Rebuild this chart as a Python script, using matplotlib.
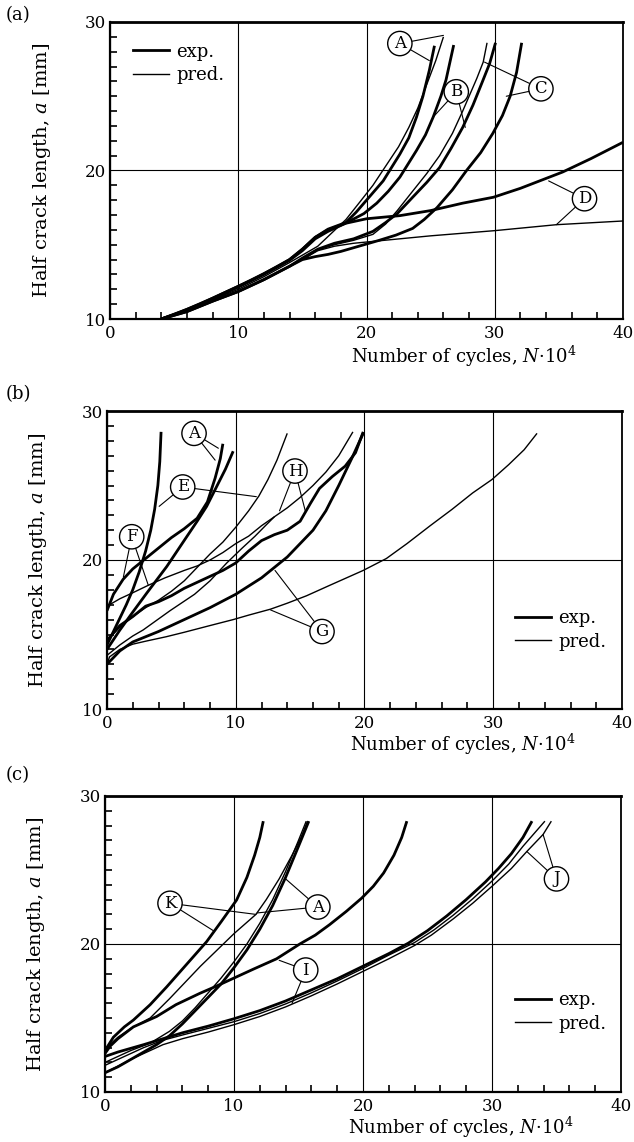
import matplotlib
matplotlib.use("Agg")
import matplotlib.pyplot as plt
from matplotlib.ticker import MultipleLocator
from matplotlib.lines import Line2D

plt.rcParams["font.family"] = ["DejaVu Serif"]
plt.rcParams["mathtext.fontset"] = "dejavuserif"

# ---------------- data (N in 10^4 cycles, a in mm) ----------------
# panel (a)
a_A_exp_N = [4, 5, 6, 7, 8, 9, 10, 11, 12, 13, 14, 15, 16, 17, 18.4, 19.2, 20, 21.3, 22.6, 23.3, 23.9, 24.4, 24.9, 25.3]
a_A_exp_a = [10.0, 10.3, 10.65, 11.0, 11.4, 11.8, 12.2, 12.6, 13.05, 13.5, 14.0, 14.7, 15.5, 16.05, 16.5, 17.2, 18.0, 19.3, 21.1, 22.2, 23.6, 25.0, 26.75, 28.4]
a_A_pred_N = [4, 6, 8, 10, 12, 14, 15, 16.2, 17.3, 18.4, 19.5, 20.5, 21.5, 22.5, 23.3, 24.0, 24.7, 25.4, 26.0]
a_A_pred_a = [10.0, 10.55, 11.3, 12.0, 12.85, 13.8, 14.3, 14.9, 15.8, 16.7, 17.9, 19.0, 20.3, 21.6, 22.9, 24.2, 25.8, 27.4, 29.0]
a_B_pred_N = [4, 6, 8, 10, 12, 14, 15, 16, 17, 18, 18.7, 19.8, 20.8, 21.7, 22.6, 23.9, 24.6, 25.2, 25.8, 26.2, 26.8]
a_B_pred_a = [10.0, 10.6, 11.35, 12.15, 13.0, 13.95, 14.6, 15.4, 15.9, 16.3, 16.6, 17.1, 17.8, 18.6, 19.55, 21.35, 22.4, 23.6, 25.0, 26.1, 28.45]
a_B_exp_N = [4, 6, 8, 10, 12, 14, 15, 16.2, 17.5, 19, 20.5, 21.5, 22.4, 23.6, 24.7, 25.7, 26.6, 27.5, 28.3, 29.0, 29.6, 30.06]
a_B_exp_a = [10.0, 10.5, 11.2, 11.85, 12.65, 13.55, 14.1, 14.7, 15.1, 15.4, 15.9, 16.5, 17.1, 18.2, 19.2, 20.2, 21.5, 22.9, 24.4, 25.9, 27.2, 28.6]
a_C_pred_N = [4, 6, 8, 10, 12, 14, 15, 16.2, 17.5, 19, 20.5, 21.5, 22.4, 23.5, 24.7, 25.7, 26.7, 27.5, 28.1, 28.6, 29.1, 29.4]
a_C_pred_a = [10.0, 10.5, 11.2, 11.85, 12.65, 13.55, 14.0, 14.65, 15.0, 15.3, 15.7, 16.4, 17.3, 18.5, 19.8, 21.0, 22.5, 24.0, 25.2, 26.2, 27.3, 28.6]
a_C_exp_N = [4, 6, 8, 10, 12, 14, 15, 16, 17, 18, 19, 20, 21, 22.3, 23.6, 24.5, 25.5, 26.7, 27.8, 28.9, 29.85, 30.6, 31.2, 31.7, 32.1]
a_C_exp_a = [10.0, 10.5, 11.2, 11.85, 12.65, 13.55, 14.0, 14.2, 14.35, 14.55, 14.8, 15.05, 15.3, 15.65, 16.1, 16.7, 17.5, 18.7, 20.0, 21.2, 22.5, 23.7, 25.0, 26.6, 28.6]
a_D_exp_N = [4, 6, 8, 10, 12, 14, 15, 16, 17, 18.4, 20, 22.6, 25, 27.5, 29.9, 32, 35.3, 37.5, 40]
a_D_exp_a = [10.0, 10.65, 11.4, 12.2, 13.05, 14.0, 14.7, 15.5, 16.0, 16.45, 16.75, 16.96, 17.3, 17.8, 18.2, 18.8, 19.9, 20.8, 21.9]
a_D_pred_N = [4, 6, 8, 10, 12, 14, 15, 16.2, 17.5, 19, 21.4, 25, 30, 34.8, 40]
a_D_pred_a = [10.0, 10.5, 11.2, 11.85, 12.65, 13.55, 14.0, 14.6, 14.9, 15.1, 15.3, 15.6, 15.95, 16.35, 16.6]

# panel (b)
b_E_exp_N = [0, 0.5, 1, 1.5, 2, 2.5, 3.0, 3.4, 3.7, 3.95, 4.1, 4.2]
b_E_exp_a = [14.3, 15.2, 16.1, 17.0, 18.0, 19.2, 20.6, 22.0, 23.4, 25.0, 26.6, 28.6]
b_E_pred_N = [0, 1, 2, 3, 4, 5, 6, 7, 8, 9, 10, 11, 11.8, 12.5, 13.2, 14.0]
b_E_pred_a = [14.6, 15.5, 16.2, 16.8, 17.3, 17.9, 18.6, 19.5, 20.4, 21.2, 22.2, 23.3, 24.3, 25.4, 26.7, 28.5]
b_F_exp_N = [0, 0.5, 1.25, 2, 3, 4, 5, 6, 7, 7.8, 8.4, 8.8, 9.0]
b_F_exp_a = [16.6, 17.7, 18.7, 19.4, 20.1, 20.8, 21.5, 22.1, 22.8, 23.9, 25.5, 26.8, 27.8]
b_F_pred_N = [0, 1, 2, 3.2, 4.5, 6, 7, 8, 9, 10, 11, 12, 13, 14, 15, 16, 17, 18, 19.1]
b_F_pred_a = [16.9, 17.4, 17.8, 18.3, 18.8, 19.3, 19.6, 20.0, 20.5, 21.1, 21.6, 22.3, 22.9, 23.5, 24.2, 25.0, 25.9, 27.0, 28.6]
b_A_exp_N = [0, 1, 2, 3.08, 4.64, 6.19, 7.0, 7.74, 8.5, 9.2, 9.8]
b_A_exp_a = [14.0, 15.3, 16.5, 17.77, 19.56, 21.56, 22.6, 23.6, 24.9, 26.1, 27.3]
b_A_pred_N = [0, 1, 2, 2.8, 4.9, 6.8, 8.0, 9.3, 10.5, 11.5, 12.3, 13.0]
b_A_pred_a = [13.6, 14.3, 14.9, 15.3, 16.6, 17.7, 18.6, 19.8, 20.8, 21.6, 22.3, 22.9]
b_H_exp_N = [0, 1, 2, 3, 4, 5, 6, 7, 8, 9, 10, 11, 12, 13, 14, 15, 15.8, 16.5, 17.5, 18.5, 19.3, 19.9]
b_H_exp_a = [14.6, 15.6, 16.2, 16.9, 17.2, 17.6, 18.1, 18.5, 18.9, 19.3, 19.8, 20.6, 21.3, 21.7, 22.0, 22.6, 23.8, 24.8, 25.6, 26.3, 27.2, 28.6]
b_G_exp_N = [0, 1, 2, 4, 6, 8, 10, 12, 14, 16, 17, 18, 19, 19.9]
b_G_exp_a = [13.0, 13.9, 14.5, 15.2, 16.0, 16.8, 17.7, 18.8, 20.2, 22.0, 23.3, 25.0, 26.8, 28.5]
b_G_pred_N = [0, 0.2, 1, 2, 3, 4.6, 6, 8, 9.8, 11, 12.7, 14, 15.5, 17.3, 18.6, 19.9, 21.7, 23.3, 25.1, 26.8, 28.4, 29.9, 31.2, 32.4, 33.4]
b_G_pred_a = [13.0, 13.5, 14.0, 14.35, 14.55, 14.85, 15.15, 15.6, 16.0, 16.3, 16.7, 17.1, 17.6, 18.3, 18.8, 19.3, 20.1, 21.1, 22.3, 23.4, 24.5, 25.4, 26.4, 27.4, 28.5]

# panel (c)
c_K_exp_N = [0, 0.65, 1.5, 2.2, 3.5, 4.78, 6.3, 7.88, 9.0, 10.2, 11.0, 11.6, 12.0, 12.27]
c_K_exp_a = [12.8, 13.7, 14.4, 14.86, 15.9, 17.1, 18.6, 20.16, 21.5, 22.97, 24.5, 26.0, 27.2, 28.3]
c_K_pred_N = [0, 1, 2, 3.5, 5, 7.4, 10, 11.7, 12.5, 13.5, 14.5, 15.2, 15.7]
c_K_pred_a = [12.9, 13.7, 14.3, 15.0, 16.3, 18.5, 20.7, 22.0, 23.0, 24.4, 26.0, 27.2, 28.3]
c_A_exp_N = [0, 1, 2, 3, 4, 5, 6, 7, 8, 9, 10, 11, 12, 13, 14, 15, 15.8]
c_A_exp_a = [11.3, 11.7, 12.2, 12.7, 13.2, 13.8, 14.6, 15.5, 16.4, 17.3, 18.4, 19.6, 21.0, 22.6, 24.5, 26.6, 28.3]
c_A_pred_N = [0, 1, 2, 3.5, 5, 6, 7, 8, 9, 10, 11, 12, 13, 14, 15, 15.6]
c_A_pred_a = [12.0, 12.4, 12.8, 13.3, 14.1, 14.8, 15.7, 16.7, 17.7, 18.8, 20.0, 21.4, 23.0, 24.9, 27.0, 28.3]
c_I_exp_N = [0, 0.4, 1, 2.2, 4.0, 5.5, 7.36, 8.5, 10, 11.5, 13.3, 15.1, 16.3, 17.4, 18.7, 19.9, 20.8, 21.6, 22.4, 23.0, 23.4]
c_I_exp_a = [12.6, 13.1, 13.6, 14.4, 15.1, 15.9, 16.67, 17.1, 17.7, 18.3, 19.0, 20.0, 20.6, 21.3, 22.2, 23.1, 23.9, 24.8, 26.0, 27.2, 28.3]
c_I_pred_N = [0, 1, 2, 3, 4.5, 6, 8, 10, 12, 14, 16, 18, 20, 22, 24, 25.5, 27, 28.5, 30, 31.3, 32.4, 33.3, 34.1]
c_I_pred_a = [11.8, 12.2, 12.6, 13.0, 13.5, 13.85, 14.3, 14.75, 15.3, 15.95, 16.7, 17.5, 18.35, 19.25, 20.1, 20.95, 21.95, 23.05, 24.25, 25.4, 26.6, 27.5, 28.3]
c_J_exp_N = [0, 1, 2, 3, 4.5, 6, 8, 10, 12, 14, 16, 18, 20, 22, 23.5, 25, 26.5, 28, 29.5, 30.5, 31.5, 32.4, 33.1]
c_J_exp_a = [12.4, 12.7, 12.95, 13.2, 13.6, 14.0, 14.45, 14.95, 15.5, 16.15, 16.9, 17.65, 18.5, 19.35, 20.05, 20.9, 21.9, 23.0, 24.2, 25.1, 26.1, 27.2, 28.3]
c_J_pred_N = [0, 1, 2, 3, 4.5, 6, 8, 10, 12, 14, 16, 18, 20, 22, 24, 25.3, 27, 28.5, 30, 31.5, 32.7, 33.96, 34.6]
c_J_pred_a = [11.3, 11.75, 12.2, 12.6, 13.2, 13.6, 14.05, 14.55, 15.1, 15.75, 16.5, 17.3, 18.15, 19.0, 19.9, 20.6, 21.7, 22.75, 23.9, 25.1, 26.25, 27.4, 28.3]

x_ticks = [0, 10, 20, 30, 40]
y_ticks = [10, 20, 30]
legend_labels = ["exp.", "pred."]
panel_tags = ["(a)", "(b)", "(c)"]

LW_EXP = 2.0
LW_PRED = 1.0

panels = {
    "a": [(a_A_exp_N, a_A_exp_a, "e"), (a_A_pred_N, a_A_pred_a, "p"),
          (a_B_pred_N, a_B_pred_a, "e"), (a_B_exp_N, a_B_exp_a, "e"),
          (a_C_pred_N, a_C_pred_a, "p"), (a_C_exp_N, a_C_exp_a, "e"),
          (a_D_exp_N, a_D_exp_a, "e"), (a_D_pred_N, a_D_pred_a, "p")],
    "b": [(b_E_exp_N, b_E_exp_a, "e"), (b_E_pred_N, b_E_pred_a, "p"),
          (b_F_exp_N, b_F_exp_a, "e"), (b_F_pred_N, b_F_pred_a, "p"),
          (b_A_exp_N, b_A_exp_a, "e"), (b_A_pred_N, b_A_pred_a, "p"),
          (b_H_exp_N, b_H_exp_a, "e"), (b_G_exp_N, b_G_exp_a, "e"),
          (b_G_pred_N, b_G_pred_a, "p")],
    "c": [(c_K_exp_N, c_K_exp_a, "e"), (c_K_pred_N, c_K_pred_a, "p"),
          (c_A_exp_N, c_A_exp_a, "e"), (c_A_pred_N, c_A_pred_a, "p"),
          (c_I_exp_N, c_I_exp_a, "e"), (c_I_pred_N, c_I_pred_a, "p"),
          (c_J_exp_N, c_J_exp_a, "e"), (c_J_pred_N, c_J_pred_a, "p")],
}

# circled labels: (letter, label position, [leader targets])
labels = {
    "a": [("A", (22.6, 28.55), [(26.0, 29.1), (24.9, 27.4)]),
          ("B", (27.0, 25.3), [(25.2, 23.6), (27.7, 22.9)]),
          ("C", (33.6, 25.5), [(29.2, 27.3), (30.9, 25.0)]),
          ("D", (37.0, 18.1), [(34.2, 19.3), (34.8, 16.35)])],
    "b": [("A", (6.76, 28.5), [(8.65, 27.5), (8.4, 26.7)]),
          ("E", (5.88, 24.9), [(4.05, 23.6), (11.6, 24.25)]),
          ("F", (1.92, 21.56), [(1.27, 18.85), (3.21, 18.3)]),
          ("H", (14.6, 25.97), [(13.4, 23.3), (15.4, 23.3)]),
          ("G", (16.7, 15.2), [(13.05, 19.3), (12.7, 16.65)])],
    "c": [("K", (5.04, 22.75), [(8.4, 20.9), (11.7, 22.0)]),
          ("A", (16.5, 22.5), [(14.0, 24.4), (11.8, 22.1)]),
          ("I", (15.56, 18.24), [(13.5, 18.9), (14.5, 16.0)]),
          ("J", (35.0, 24.4), [(33.96, 27.4), (32.7, 26.25)])],
}

W, H = 634, 1142
fig = plt.figure(figsize=(W / 100, H / 100), dpi=100)

boxes = {"a": (110, 623, 22, 319), "b": (107, 622, 411, 709), "c": (105, 621, 796, 1092)}
legend_pos = {"a": (0.045, 0.93), "b": (0.792, 0.335), "c": (0.795, 0.34)}
xlabel_y = {"a": -0.085, "b": -0.075, "c": -0.078}
tag_y = {"a": 15, "b": 394, "c": 775}

for i, key in enumerate(["a", "b", "c"]):
    l, r, t, b = boxes[key]
    ax = fig.add_axes([l / W, 1 - b / H, (r - l) / W, (b - t) / H])
    ax.set_xlim(0, 40)
    ax.set_ylim(10, 30)
    for N, a, kind in panels[key]:
        ax.plot(N, a, color="black", lw=LW_EXP if kind == "e" else LW_PRED,
                solid_capstyle="butt", solid_joinstyle="round", zorder=3)
    ax.set_xticks(x_ticks)
    ax.set_yticks(y_ticks)
    ax.xaxis.set_minor_locator(MultipleLocator(2))
    ax.yaxis.set_minor_locator(MultipleLocator(1))
    ax.tick_params(which="major", length=0, labelsize=12, pad=3)
    ax.tick_params(axis="x", which="major", pad=4)
    ax.tick_params(which="minor", direction="in", length=5, width=1.2)
    ax.grid(True, which="major", color="black", lw=0.8)
    for s in ax.spines.values():
        s.set_linewidth(1.6)
    ax.spines["top"].set_linewidth(2.0)
    ax.spines["right"].set_linewidth(1.3)
    ax.set_ylabel("Half crack length, $a$ [mm]", fontsize=14)
    ax.yaxis.set_label_coords(-0.112, 0.5)
    ax.set_xlabel("Number of cycles, $N$·10$^4$", fontsize=13)
    ax.xaxis.set_label_coords(0.69, xlabel_y[key])

    for letter, pos, targets in labels[key]:
        for j, tgt in enumerate(targets):
            ax.annotate(letter, xy=tgt, xytext=pos, ha="center", va="center",
                        fontsize=12, color="black" if j == 0 else "none",
                        bbox=dict(boxstyle="circle,pad=0.22",
                                  fc="white" if j == 0 else "none",
                                  ec="black" if j == 0 else "none", lw=1.0),
                        arrowprops=dict(arrowstyle="-", lw=0.8, color="black",
                                        shrinkA=0, shrinkB=0),
                        zorder=5)

    handles = [Line2D([], [], color="black", lw=LW_EXP),
               Line2D([], [], color="black", lw=LW_PRED)]
    ax.legend(handles, legend_labels, loc="upper left", bbox_to_anchor=legend_pos[key],
              frameon=False, fontsize=13, handlelength=2.0, handletextpad=0.4,
              labelspacing=0.3, borderpad=0, borderaxespad=0)

    fig.text(6 / W, 1 - tag_y[key] / H, panel_tags[i], fontsize=13, ha="left", va="center")

fig.savefig("out.png", dpi=100)
